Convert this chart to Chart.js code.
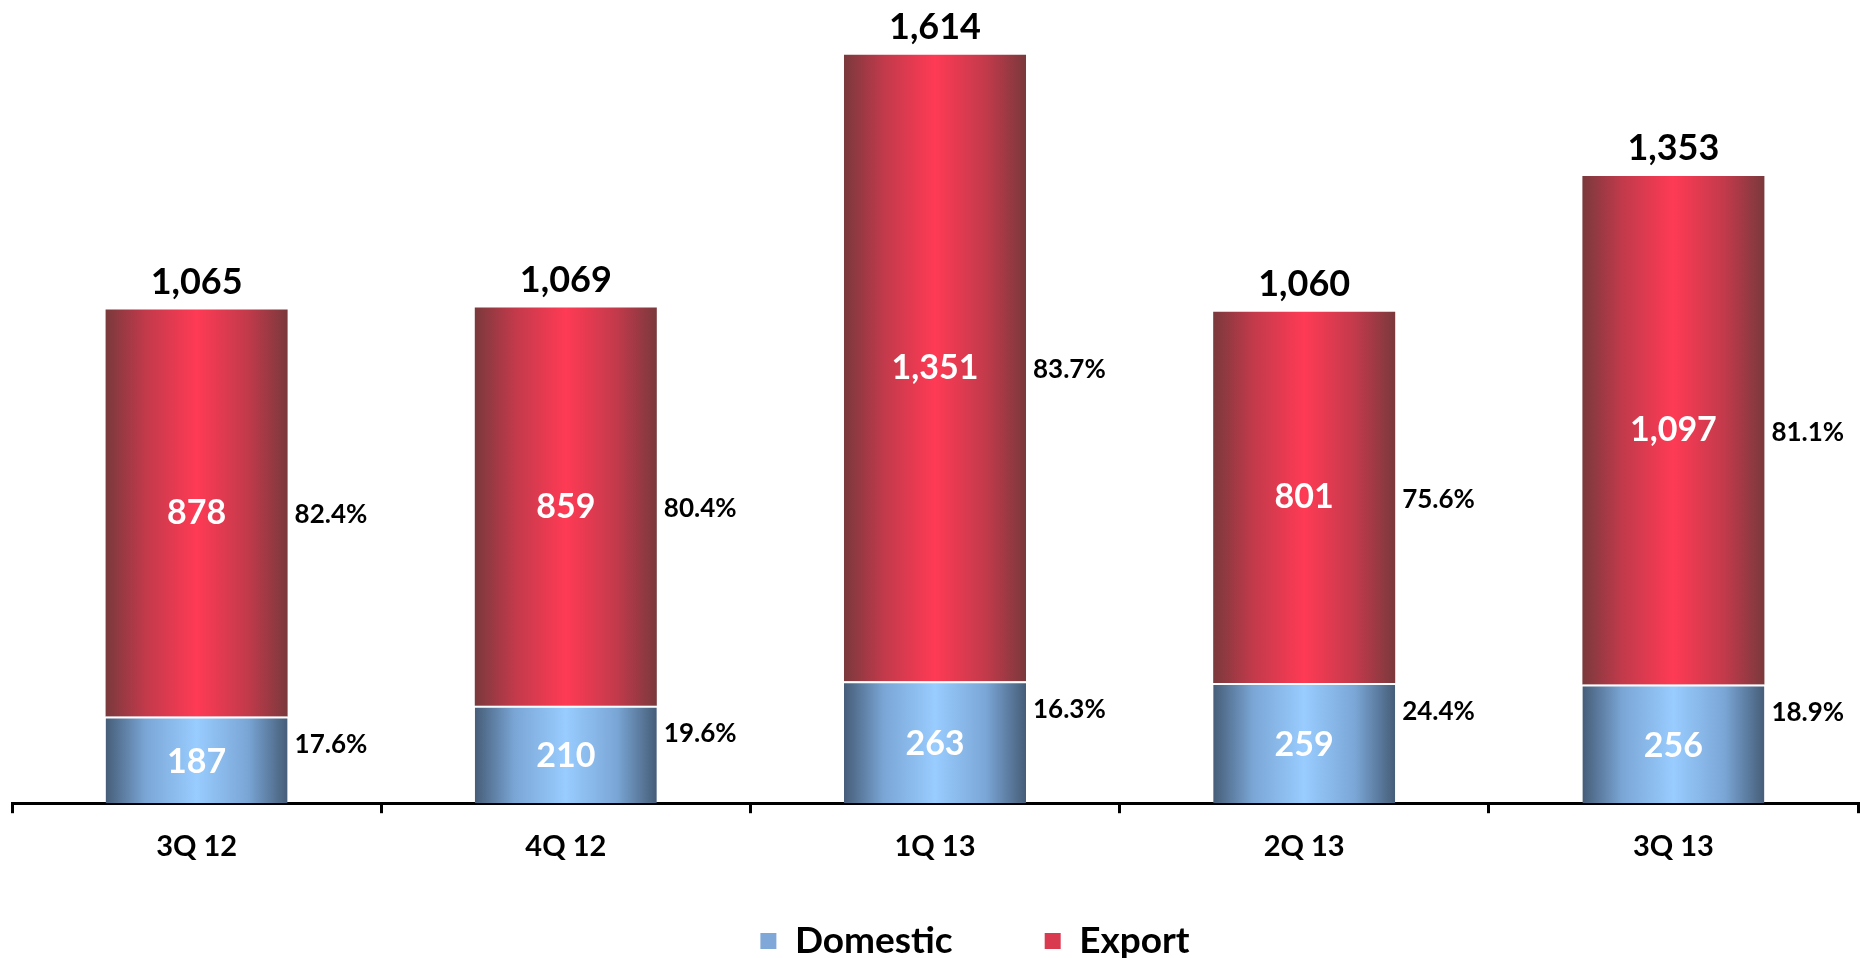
<!DOCTYPE html>
<html>
<head>
<meta charset="utf-8">
<script src="https://cdn.jsdelivr.net/npm/chart.js@4/dist/chart.umd.min.js"></script>
<style>
  html, body { margin: 0; padding: 0; background: #fff; }
  #wrap { width: 1860px; height: 958px; }
</style>
</head>
<body>
<div id="wrap"><canvas id="myChart" width="1860" height="958"></canvas></div>
<script>
 const categories = ['3Q 12', '4Q 12', '1Q 13', '2Q 13', '3Q 13'];
 const domestic = [187, 210, 263, 259, 256];
 const exportVals = [878, 859, 1351, 801, 1097];
 const seriesNames = ['Domestic', 'Export'];

 const totals = domestic.map((d, i) => d + exportVals[i]);
 const domPct = domestic.map((d, i) => (d / totals[i] * 100).toFixed(1) + '%');
 const expPct = exportVals.map((e, i) => (e / totals[i] * 100).toFixed(1) + '%');

 const barPct = 0.493;
 const blueStops = ['#465d78', '#7aa6d6', '#99ccff', '#7aa6d6', '#465d78'];
 const redStops = ['#7a393c', '#c23a4b', '#ff3a55', '#c23a4b', '#7a393c'];
 const fontFamily = 'Lato, "Open Sans", sans-serif';
 const legendFont = 37;

 function barGradient(context, stops) {
   const chart = context.chart;
   const xs = chart.scales.x;
   if (!xs || context.dataIndex === undefined) return stops[2];
   const cx = xs.getPixelForValue(context.dataIndex);
   const w = xs.width / categories.length * barPct;
   const g = chart.ctx.createLinearGradient(cx - w / 2, 0, cx + w / 2, 0);
   g.addColorStop(0, stops[0]);
   g.addColorStop(0.22, stops[1]);
   g.addColorStop(0.5, stops[2]);
   g.addColorStop(0.78, stops[3]);
   g.addColorStop(1, stops[4]);
   return g;
 }

 // labels inside, beside and above the bars
 const labelPlugin = {
   id: 'barLabels',
   afterDatasetsDraw(chart) {
     const c = chart.ctx;
     const domMeta = chart.getDatasetMeta(0);
     const expMeta = chart.getDatasetMeta(1);
     c.save();
     domMeta.data.forEach((el, i) => {
       const right = el.x + el.width / 2;
       c.textBaseline = 'middle';
       c.textAlign = 'center';
       c.fillStyle = '#ffffff';
       c.font = 'bold 34px ' + fontFamily;
       c.fillText(String(domestic[i]), el.x, (el.y + el.base) / 2 + 2);
       c.textAlign = 'left';
       c.fillStyle = '#000000';
       c.font = 'bold 26px ' + fontFamily;
       c.fillText(domPct[i], right + 7, el.y + 28);
     });
     expMeta.data.forEach((el, i) => {
       const right = el.x + el.width / 2;
       const mid = (el.y + el.base) / 2;
       c.textBaseline = 'middle';
       c.textAlign = 'center';
       c.fillStyle = '#ffffff';
       c.font = 'bold 34px ' + fontFamily;
       c.fillText(exportVals[i].toLocaleString('en-US'), el.x, mid);
       c.textAlign = 'left';
       c.fillStyle = '#000000';
       c.font = 'bold 26px ' + fontFamily;
       c.fillText(expPct[i], right + 7, mid + 2);
       c.textAlign = 'center';
       c.font = 'bold 36px ' + fontFamily;
       c.fillText(totals[i].toLocaleString('en-US'), el.x, el.y - 27);
     });
     c.restore();
   }
 };

 // move the legend to where the original sits
 const legendPlace = {
   id: 'legendPlace',
   afterLayout(chart) {
     const lg = chart.legend;
     if (!lg) return;
     const pad = lg.options.labels.padding;
     const top = chart.height - 17 - pad - legendFont / 2;
     lg.top = top;
     lg.bottom = chart.height;
     lg.left += 40;
     lg.right += 40;
   }
 };

 const ctx = document.getElementById('myChart').getContext('2d');
 const myChart = new Chart(ctx, {
   type: 'bar',
   data: {
     labels: categories,
     datasets: [{
       label: seriesNames[0],
       data: domestic,
       backgroundColor: (context) => barGradient(context, blueStops),
       borderColor: '#ffffff',
       borderWidth: { top: 2, bottom: 0, left: 0, right: 0 },
       borderSkipped: false,
       categoryPercentage: 1,
       barPercentage: barPct
     }, {
       label: seriesNames[1],
       data: exportVals,
       backgroundColor: (context) => barGradient(context, redStops),
       borderColor: '#ffffff',
       borderWidth: 0,
       categoryPercentage: 1,
       barPercentage: barPct
     }]
   },
   options: {
     responsive: false,
     animation: false,
     layout: { padding: { left: 12, right: 2, top: 15, bottom: 0 } },
     scales: {
       x: {
         stacked: true,
         grid: {
           drawOnChartArea: false,
           drawTicks: true,
           tickLength: 10,
           color: '#000000',
           lineWidth: 3
         },
         border: { display: true, color: '#000000', width: 3 },
         ticks: {
           color: '#000000',
           padding: 16,
           font: { family: fontFamily, size: 29, weight: 'bold' }
         }
       },
       y: {
         stacked: true,
         display: false,
         min: 0,
         max: 1700
       }
     },
     plugins: {
       tooltip: { enabled: false },
       legend: {
         position: 'bottom',
         maxHeight: 78,
         labels: {
           boxWidth: 16,
           boxHeight: 16,
           padding: 92,
           color: '#000000',
           font: { family: fontFamily, size: legendFont, weight: 'bold' },
           generateLabels: (chart) => chart.data.datasets.map((ds, i) => ({
             text: ds.label,
             fillStyle: i === 0 ? '#7fa8d8' : '#d93a50',
             strokeStyle: i === 0 ? '#7fa8d8' : '#d93a50',
             lineWidth: 0,
             fontColor: '#000000',
             datasetIndex: i
           }))
         }
       }
     }
   },
   plugins: [labelPlugin, legendPlace]
 });
</script>
</body>
</html>
